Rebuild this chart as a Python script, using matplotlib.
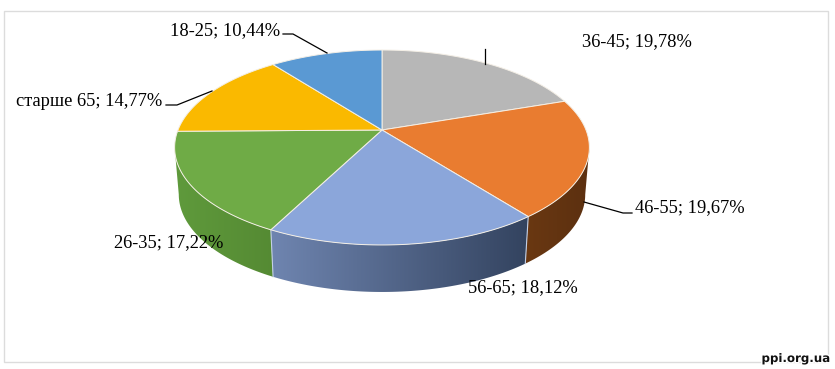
import matplotlib
matplotlib.use('Agg')
import matplotlib.pyplot as plt
import matplotlib.patheffects as pe
from matplotlib.colors import to_rgb
from matplotlib.patches import Polygon, Rectangle
import numpy as np

# going clockwise from 12 o'clock
labels = ['36-45', '46-55', '56-65', '26-35', 'старше 65', '18-25']
values = [19.78, 19.67, 18.12, 17.22, 14.77, 10.44]
top_colors = ['#b7b7b7', '#e97c30', '#8ba6da', '#6fab46', '#fab900', '#5a99d3']
# side shading, colours at the left and right end of the slice
side_colors = [('#6e6e6e', '#6e6e6e'), ('#6a3812', '#5c3010'), ('#6f85b0', '#33435f'),
               ('#5f9a3c', '#558a33'), ('#977000', '#977000'), ('#33608a', '#33608a')]
label_pos = [(582, 42), (635, 208), (468, 288), (114, 243), (16, 101), (170, 31)]
leaders = [[(485, 49), (485, 64)],
           [(584, 202), (623, 213), (632, 213)],
           [],
           [],
           [(166, 105), (177, 105), (212, 91)],
           [(283, 34), (293, 34), (327, 53)]]

cx, cy = 382, 130   # where the slices meet
rad = 204
persp = 0.1795      # tilt of the pie, far edge looks smaller
squash = -71
depth = 47
base_shrink = 0.98  # lower rim is a bit narrower


def project(theta):
    s, c = np.sin(theta), np.cos(theta)
    w = 1 + persp * c
    return cx + rad * s / w, (squash * c + cy) / w


fig = plt.figure(figsize=(8.35, 3.69), dpi=100)
ax = fig.add_axes([0, 0, 1, 1])
ax.axis('off')

ax.add_patch(Rectangle((3.5, 10.5), 824, 351, fill=False, ec='#dcdcdc', lw=1, zorder=1))

edges = np.radians(np.concatenate([[0], np.cumsum(values)]) * 3.6)

# only the front part of the wall can be seen, between the two tangent points
front_a = np.arccos(-persp)
front_b = 2 * np.pi - front_a

for i in range(len(values)):
    a, b = max(edges[i], front_a), min(edges[i + 1], front_b)
    if a >= b:
        continue
    th = np.linspace(a, b, 120)
    x, y = project(th)
    xb = cx + (x - cx) * base_shrink
    yb = y + depth
    poly = Polygon(np.c_[np.r_[x, xb[::-1]], np.r_[y, yb[::-1]]], closed=True,
                   transform=ax.transData, fc='none', ec='none')
    ax.add_patch(poly)
    left, right = min(x.min(), xb.min()), max(x.max(), xb.max())
    ramp = np.linspace(to_rgb(side_colors[i][0]), to_rgb(side_colors[i][1]), 256)[None, :, :]
    ax.imshow(ramp, extent=(left, right, yb.max(), y.min()), aspect='auto',
              interpolation='bilinear', clip_path=poly, zorder=2)
    if edges[i] > front_a:
        ax.plot([x[0], xb[0]], [y[0], yb[0]], color='#c3d0e6', lw=0.8, zorder=2.5)

for i in range(len(values)):
    th = np.linspace(edges[i], edges[i + 1], 120)
    x, y = project(th)
    ax.fill(np.r_[cx, x], np.r_[cy, y], facecolor=top_colors[i], edgecolor='#f4efe6',
            lw=0.7, zorder=3)

for i in range(len(values)):
    if leaders[i]:
        px, py = zip(*leaders[i])
        ax.plot(px, py, color='black', lw=0.9, zorder=4)
    ax.text(label_pos[i][0], label_pos[i][1], f"{labels[i]}; {values[i]:.2f}%".replace('.', ','),
            family='Liberation Serif', fontsize=13.3, color='black', ha='left', va='center', zorder=5)

ax.text(830, 358.5, 'ppi.org.ua', family='DejaVu Sans', weight='bold', fontsize=8.5,
        ha='right', va='center', color='#111111', zorder=6,
        path_effects=[pe.withStroke(linewidth=2, foreground='white')])

ax.set_xlim(0, 835)
ax.set_ylim(369, 0)
ax.set_aspect('auto')

fig.savefig('out.png', dpi=100)
